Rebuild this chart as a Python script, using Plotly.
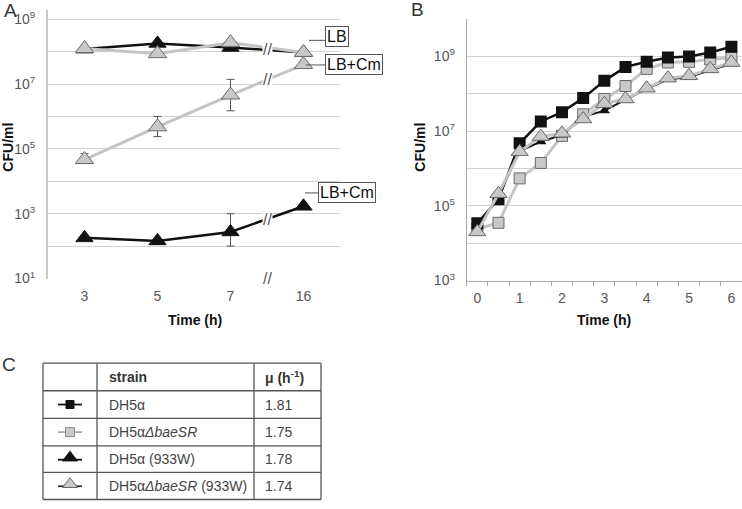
"""Growth curves: CFU/ml over time, panels A, B and growth-rate table C."""

import plotly.graph_objects as go

W, H = 742, 509

# ---- panel A data (CFU/ml) ----
times_a = ["3", "5", "7", "16"]
lb_dh5a_933w = [1.2e8, 1.8e8, 1.35e8, 9.5e7]
lb_baesr_933w = [1.25e8, 8.7e7, 1.9e8, 9.5e7]
cm_baesr_933w = [4.7e4, 4.8e5, 4.6e6, 4.0e7]
cm_baesr_933w_hi = [7.2e4, 1.0e6, 1.4e7, 4.0e7]
cm_baesr_933w_lo = [4.7e4, 2.4e5, 1.5e6, 4.0e7]
cm_dh5a_933w = [180, 145, 275, 1700]
cm_dh5a_933w_hi = [210, 145, 1000, 1700]
cm_dh5a_933w_lo = [180, 145, 100, 1700]

# ---- panel B data (CFU/ml) ----
times_b = [0, 0.5, 1, 1.5, 2, 2.5, 3, 3.5, 4, 4.5, 5, 5.5, 6]
dh5a = [3.4e4, 1.5e5, 4.7e6, 1.8e7, 3.2e7, 7.6e7, 2.2e8, 5.2e8, 7.1e8,
        9.3e8, 9.8e8, 1.26e9, 1.8e9]
dh5a_baesr = [2.4e4, 3.5e4, 5.4e5, 1.4e6, 7.4e6, 2.8e7, 7.2e7, 1.6e8,
              4.6e8, 6.8e8, 7.1e8, 8.3e8, 9.3e8]
dh5a_933w = [2.5e4, 1.8e5, 2.9e6, 5.2e6, 7.8e6, 2.4e7, 3.5e7, 6.9e7,
             1.35e8, 2.4e8, 2.8e8, 4.2e8, 6.3e8]
dh5a_baesr_933w = [2.0e4, 2.1e5, 2.8e6, 7.1e6, 8.7e6, 2.1e7, 5.4e7, 7.2e7,
                   1.4e8, 2.6e8, 3.0e8, 4.6e8, 6.8e8]

# ---- panel C table ----
strains = ["DH5α", "DH5α<i>ΔbaeSR</i>", "DH5α (933W)",
           "DH5α<i>ΔbaeSR</i> (933W)"]
mu = ["1.81", "1.75", "1.78", "1.74"]

BLACK = "#111111"
GREY_FILL = "#c8c8c8"
GREY_LINE = "#c4c4c4"
EDGE = "#6a6a6a"
GRID = "#d2d2d2"
TXT = "#444444"
FONT = "Liberation Sans, Arial, sans-serif"


def px(x):
    return x / W


def py(y):
    return 1 - y / H


def decades(lo, hi):
    """Labelled decades every 2, plain grid on the ones between."""
    major = [10 ** e for e in range(lo, hi + 1, 2)]
    text = ["10<sup>%d</sup>" % e for e in range(lo, hi + 1, 2)]
    minor = [10 ** e for e in range(lo + 1, hi + 1, 2)]
    return major, text, minor


fig = go.Figure()
xa = list(range(len(times_a)))


def err(vals, hi, lo):
    return dict(type="data", symmetric=False,
                array=[h - v for h, v in zip(hi, vals)],
                arrayminus=[v - l for l, v in zip(lo, vals)],
                color="#555555", thickness=1, width=4)


# panel A traces
fig.add_trace(go.Scatter(x=xa, y=lb_dh5a_933w, mode="lines+markers",
                         line=dict(color=BLACK, width=2.5),
                         marker=dict(symbol="triangle-up", size=15, color=BLACK,
                                     line=dict(color=BLACK, width=1)),
                         xaxis="x", yaxis="y"))
fig.add_trace(go.Scatter(x=xa, y=lb_baesr_933w, mode="lines+markers",
                         line=dict(color=GREY_LINE, width=3),
                         marker=dict(symbol="triangle-up", size=16, color=GREY_FILL,
                                     line=dict(color=EDGE, width=1)),
                         xaxis="x", yaxis="y"))
fig.add_trace(go.Scatter(x=xa, y=cm_baesr_933w, mode="lines+markers",
                         line=dict(color=GREY_LINE, width=3),
                         error_y=err(cm_baesr_933w, cm_baesr_933w_hi, cm_baesr_933w_lo),
                         marker=dict(symbol="triangle-up", size=16, color=GREY_FILL,
                                     line=dict(color=EDGE, width=1)),
                         xaxis="x", yaxis="y"))
fig.add_trace(go.Scatter(x=xa, y=cm_dh5a_933w, mode="lines+markers",
                         line=dict(color=BLACK, width=2.5),
                         error_y=err(cm_dh5a_933w, cm_dh5a_933w_hi, cm_dh5a_933w_lo),
                         marker=dict(symbol="triangle-up", size=15, color=BLACK,
                                     line=dict(color=BLACK, width=1)),
                         xaxis="x", yaxis="y"))

# panel B traces
fig.add_trace(go.Scatter(x=times_b, y=dh5a_baesr, mode="lines+markers",
                         line=dict(color=GREY_LINE, width=3),
                         marker=dict(symbol="square", size=11, color=GREY_FILL,
                                     line=dict(color=EDGE, width=1)),
                         xaxis="x2", yaxis="y2"))
fig.add_trace(go.Scatter(x=times_b, y=dh5a, mode="lines+markers",
                         line=dict(color=BLACK, width=2.5),
                         marker=dict(symbol="square", size=12, color=BLACK),
                         xaxis="x2", yaxis="y2"))
fig.add_trace(go.Scatter(x=times_b, y=dh5a_933w, mode="lines+markers",
                         line=dict(color=BLACK, width=2),
                         marker=dict(symbol="triangle-up", size=10, color=BLACK),
                         xaxis="x2", yaxis="y2"))
fig.add_trace(go.Scatter(x=times_b, y=dh5a_baesr_933w, mode="lines+markers",
                         line=dict(color=GREY_LINE, width=3),
                         marker=dict(symbol="triangle-up", size=15, color=GREY_FILL,
                                     line=dict(color=EDGE, width=1)),
                         xaxis="x2", yaxis="y2"))

# table glyphs (pixel axes)
row_y = [411, 439, 467, 494]
glyphs = [
    dict(lc=BLACK, sym="square", size=8, fc=BLACK, ec=BLACK),
    dict(lc="#aaaaaa", sym="square", size=9, fc=GREY_FILL, ec="#888888"),
    dict(lc=BLACK, sym="triangle-up", size=13, fc=BLACK, ec=BLACK),
    dict(lc="#333333", sym="triangle-up", size=13, fc=GREY_FILL, ec=EDGE),
]
for g, yy in zip(glyphs, row_y):
    fig.add_trace(go.Scatter(x=[58, 82], y=[yy, yy], mode="lines",
                             line=dict(color=g["lc"], width=1.8),
                             xaxis="x3", yaxis="y3"))
    fig.add_trace(go.Scatter(x=[70], y=[yy - (2 if "tri" in g["sym"] else 0)],
                             mode="markers",
                             marker=dict(symbol=g["sym"], size=g["size"],
                                         color=g["fc"],
                                         line=dict(color=g["ec"], width=1)),
                             xaxis="x3", yaxis="y3"))

ya_vals, ya_text, ya_minor = decades(1, 9)
yb_vals, yb_text, yb_minor = decades(3, 9)
yb_minor.append(1e10)

tickfont = dict(family=FONT, size=14, color="#555555")

fig.update_layout(
    width=W, height=H, showlegend=False,
    margin=dict(l=0, r=0, t=0, b=0),
    paper_bgcolor="white", plot_bgcolor="rgba(0,0,0,0)",
    font=dict(family=FONT, color=TXT),
    xaxis=dict(domain=[px(48), px(340)], range=[-0.5, 3.5], anchor="y",
               tickvals=xa, ticktext=times_a, showgrid=False, zeroline=False,
               showline=False, ticks="", tickfont=tickfont, ticklabelstandoff=7),
    yaxis=dict(domain=[py(283), py(9.7)], type="log", range=[1, 9.3],
               anchor="x",
               tickvals=ya_vals, ticktext=ya_text, gridcolor=GRID, gridwidth=1,
               minor=dict(tickvals=ya_minor, showgrid=True, gridcolor=GRID,
                          gridwidth=1, ticks=""),
               showline=True, linecolor="#c8c8c8", linewidth=2, ticks="",
               tickfont=tickfont, ticklabelstandoff=8, zeroline=False),
    xaxis2=dict(domain=[px(466.7), 1.0], range=[-0.25, 6.25], anchor="y2",
                tickvals=[0, 1, 2, 3, 4, 5, 6], showgrid=False, zeroline=False,
                showline=True, linecolor="#aaaaaa", linewidth=1,
                ticks="", tickfont=tickfont, ticklabelstandoff=5,
                minor=dict(tickvals=[t - 0.25 for t in times_b] + [6.25],
                           ticks="outside", ticklen=4, tickcolor="#aaaaaa",
                           showgrid=False)),
    yaxis2=dict(domain=[py(285), py(19.2)], type="log", range=[3, 10],
                anchor="x2",
                tickvals=yb_vals, ticktext=yb_text, gridcolor=GRID, gridwidth=1,
                minor=dict(tickvals=yb_minor, showgrid=True, gridcolor=GRID,
                           gridwidth=1, ticks=""),
                showline=True, linecolor="#aaaaaa", linewidth=1, ticks="",
                tickfont=tickfont, ticklabelstandoff=8, zeroline=False),
    xaxis3=dict(domain=[0, 1], range=[0, W], visible=False, fixedrange=True,
                anchor="y3"),
    yaxis3=dict(domain=[0, 1], range=[H, 0], visible=False, fixedrange=True,
                anchor="x3"),
)

ann = []
shapes = []

# titles and panel letters
ann += [
    dict(x=px(10), y=py(11), text="A", font=dict(size=19, color="#333333")),
    dict(x=px(417), y=py(10), text="B", font=dict(size=19, color="#333333")),
    dict(x=px(9), y=py(370), text="C", font=dict(size=19, color="#333333")),
    dict(x=px(8), y=py(150), text="<b>CFU/ml</b>", textangle=-90,
         font=dict(size=14, color="#111111")),
    dict(x=px(420), y=py(150), text="<b>CFU/ml</b>", textangle=-90,
         font=dict(size=14, color="#111111")),
    dict(x=px(195), y=py(325), text="<b>Time (h)</b>",
         font=dict(size=14, color="#111111")),
    dict(x=px(604), y=py(325), text="<b>Time (h)</b>",
         font=dict(size=14, color="#111111")),
]
for a in ann:
    a.update(xref="paper", yref="paper", showarrow=False,
             xanchor="center", yanchor="middle")

# axis breaks in panel A
for yv in [8.06, 7.13, 2.83, 1.0]:
    ann.append(dict(x=2.5, y=yv, xref="x", yref="y", text="//",
                    showarrow=False, bgcolor="white", borderpad=0,
                    xanchor="center", yanchor="middle",
                    font=dict(size=16, color="#555555")))

# series labels in panel A
for txt, x0, yc, lx0 in [("LB", 325, 37, 309),
                         ("LB+Cm", 325, 66, 306),
                         ("LB+Cm", 318, 196, 305)]:
    ann.append(dict(x=px(x0), y=py(yc), xref="paper", yref="paper", text=txt,
                    showarrow=False, bgcolor="white", bordercolor="#555555",
                    borderwidth=1, borderpad=1, xanchor="left",
                    yanchor="middle",
                    font=dict(size=16, color="#111111")))
    ly = yc + (4 if txt == "LB" else 0)
    shapes.append(dict(type="line", xref="paper", yref="paper",
                       x0=px(lx0), x1=px(x0), y0=py(ly), y1=py(ly),
                       line=dict(color="#555555", width=1)))

# table grid
tx = [43, 97, 254, 321]
ty = [369, 397, 425, 453, 480, 507.5]
for x in tx:
    shapes.append(dict(type="line", xref="paper", yref="paper",
                       x0=px(x), x1=px(x), y0=py(ty[0]), y1=py(ty[-1]),
                       line=dict(color="#555555", width=1.3)))
for y in ty:
    shapes.append(dict(type="line", xref="paper", yref="paper",
                       x0=px(tx[0]), x1=px(tx[-1]), y0=py(y), y1=py(y),
                       line=dict(color="#555555", width=1.3)))

cells = [("<b>strain</b>", "<b>μ (h<sup>-1</sup>)</b>")] + list(zip(strains, mu))
for i, (s, m) in enumerate(cells):
    yc = (ty[i] + ty[i + 1]) / 2
    for txt, x in [(s, 107), (m, 263)]:
        ann.append(dict(x=px(x), y=py(yc), xref="paper", yref="paper",
                        text=txt, showarrow=False, xanchor="left",
                        yanchor="middle",
                        font=dict(size=14, color="#333333" if i == 0 else TXT)))

fig.update_layout(annotations=ann, shapes=shapes)

# pin the graph to the top-left corner of the window
pin = ("document.body.style.margin='0px';"
       "document.body.style.overflow='hidden';"
       "var g=document.getElementsByClassName('plotly-graph-div')[0];"
       "g.style.position='fixed';g.style.left='0px';g.style.top='0px';")

fig.write_html("out.html", config={"displayModeBar": False}, post_script=pin)
